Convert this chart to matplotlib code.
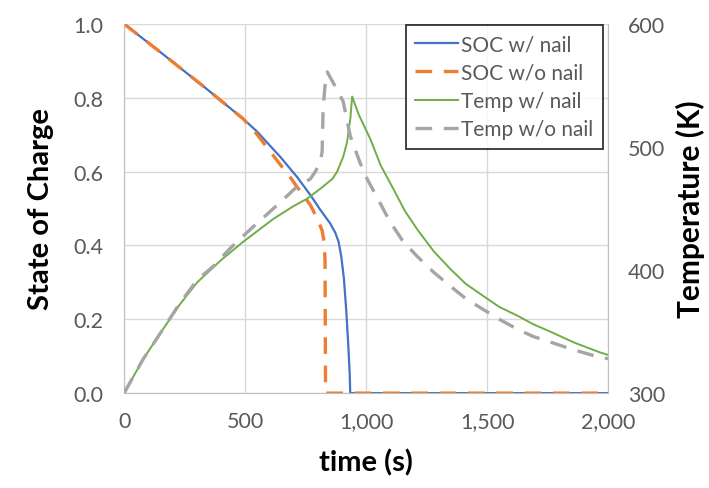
import matplotlib.pyplot as plt

# SOC with nail
t_soc_nail = [0, 149, 326, 492, 550, 603, 645, 715, 769, 810, 851, 872,
              886, 897, 908, 918, 926, 932, 934, 2000]
soc_nail = [1.0, 0.924, 0.832, 0.743, 0.708, 0.67, 0.64, 0.585, 0.537,
            0.497, 0.46, 0.435, 0.41, 0.37, 0.31, 0.22, 0.13, 0.05, 0.0, 0.0]

# SOC without nail
t_soc_no = [0, 149, 326, 492, 550, 632, 686, 715, 769, 800, 818, 826, 830, 832, 2000]
soc_no = [1.0, 0.924, 0.832, 0.743, 0.70, 0.63, 0.585, 0.558, 0.51, 0.47,
          0.44, 0.41, 0.36, 0.0, 0.0]

# Temperature with nail
t_temp_nail = [0, 80, 161, 230, 302, 400, 492, 616, 700, 756, 810, 860, 880,
               905, 921, 935, 942, 970, 1017, 1060, 1112, 1160, 1211, 1280,
               1347, 1410, 1483, 1550, 1624, 1690, 1760, 1860, 1967, 2000]
temp_nail = [300, 328, 352, 372, 390, 408, 423, 441.5, 452, 458, 466, 474, 480,
             492, 504, 524, 541, 526, 506.5, 485, 466, 448, 433, 415,
             401, 389, 379, 370, 363, 356, 350, 341, 333, 331]

# Temperature without nail
t_temp_no = [0, 80, 161, 230, 302, 368, 440, 521, 645, 715, 769, 790, 810,
             818, 822, 830, 839, 870, 905, 934, 975, 1004, 1045, 1099, 1150,
             1211, 1280, 1347, 1410, 1483, 1550, 1624, 1690, 1760, 1860, 1967, 2000]
temp_no = [300, 328, 352, 373, 392, 403, 418, 433, 455, 468, 474, 480, 488,
           496, 531, 550, 561, 550, 537, 509, 487, 474, 459, 439, 424,
           411, 398, 387, 377, 368, 360, 352, 346, 341.5, 335, 329, 328]

plt.rcParams['font.family'] = ['Lato', 'DejaVu Sans']
tick_col = '#595959'
grid_col = '#d9d9d9'

fig = plt.figure(figsize=(7.09, 4.89), dpi=100)
ax = fig.add_axes([0.175, 0.194, 0.683, 0.755])
ax2 = ax.twinx()

l1, = ax.plot(t_soc_nail, soc_nail, color='#4472c4', lw=1.6, label='SOC w/ nail')
l2, = ax.plot(t_soc_no, soc_no, color='#ed7d31', lw=2.4, dashes=(5, 3.5), label='SOC w/o nail')
l3, = ax2.plot(t_temp_nail, temp_nail, color='#70ad47', lw=1.4, label='Temp w/ nail')
l4, = ax2.plot(t_temp_no, temp_no, color='#a5a5a5', lw=2.4, dashes=(5, 3.5), label='Temp w/o nail')

ax.set_xlim(0, 2000)
ax.set_ylim(0, 1.0)
ax2.set_ylim(300, 600)
ax.set_xticks([0, 500, 1000, 1500, 2000])
ax.set_xticklabels(['0', '500', '1,000', '1,500', '2,000'])
ax.set_yticks([0, 0.2, 0.4, 0.6, 0.8, 1.0])
ax.set_yticklabels(['0.0', '0.2', '0.4', '0.6', '0.8', '1.0'])
ax2.set_yticks([300, 400, 500, 600])

ax.grid(True, color=grid_col, lw=1)
ax.set_axisbelow(True)
for a in (ax, ax2):
    for s in a.spines.values():
        s.set_visible(False)
    a.tick_params(length=0, labelsize=15.5, colors=tick_col)
ax.tick_params(axis='y', pad=15)
ax.tick_params(axis='x', pad=13)
ax2.tick_params(axis='y', pad=14)
ax.spines['left'].set_visible(True)
ax.spines['left'].set_color('#bfbfbf')
ax.spines['bottom'].set_visible(True)
ax.spines['bottom'].set_color('#bfbfbf')
ax2.spines['right'].set_visible(True)
ax2.spines['right'].set_color('#bfbfbf')

ax.set_xlabel('time (s)', fontsize=21, fontweight='bold', labelpad=12)
ax.set_ylabel('State of Charge', fontsize=21, fontweight='bold', labelpad=14)
ax2.set_ylabel('Temperature (K)', fontsize=21.5, fontweight='bold', labelpad=8)

leg = ax2.legend(handles=[l1, l2, l3, l4], loc='upper right',
                 bbox_to_anchor=(0.988, 0.997), fontsize=15, frameon=True,
                 fancybox=False, edgecolor='black', handlelength=2.05,
                 handletextpad=0.15, borderpad=0.45, labelspacing=0.4,
                 borderaxespad=0)
leg.get_frame().set_linewidth(1.3)
for txt in leg.get_texts():
    txt.set_color(tick_col)

fig.savefig('out.png', dpi=100)
